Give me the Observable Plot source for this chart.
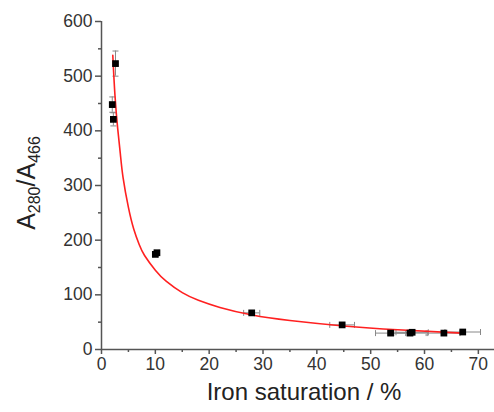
<!DOCTYPE html>
<html>
<head>
<meta charset="utf-8">
<script src="https://cdn.jsdelivr.net/npm/d3@7"></script>
<script src="https://cdn.jsdelivr.net/npm/@observablehq/plot@0.6"></script>
<style>
  html, body { margin: 0; padding: 0; background: #fff; }
  #chart svg { display: block; }
</style>
</head>
<body>
<div id="chart"></div>
<script>
// Measured points
const saturation = [2.0, 2.2, 2.6, 10.0, 10.3, 27.9, 44.7, 53.7, 57.3, 57.7, 63.6, 67.1];
const ratio      = [448, 421, 523, 174, 177, 67, 45, 30, 30, 31.5, 30, 32];
const ratioErr   = [14, 12, 23, 3, 3, 3, 3, 2, 2, 2, 2, 2];
const satErr     = [0.4, 0.4, 0.4, 0.4, 0.4, 1.5, 2.3, 2.8, 3.0, 3.0, 3.0, 3.3];

// Fitted curve
const fitX = [2.1, 2.5, 3, 3.5, 4, 5, 6, 7, 8, 10, 12, 15, 18, 22, 28, 35, 45, 55, 67];
const fitY = [538, 465, 405, 358, 315, 260, 220, 192, 172, 145, 125, 104, 90, 77, 63, 53, 43, 36, 30];

const xTicks = [0, 10, 20, 30, 40, 50, 60, 70];
const xMinor = [5, 15, 25, 35, 45, 55, 65];
const yTicks = [0, 100, 200, 300, 400, 500, 600];
const yMinor = [50, 150, 250, 350, 450, 550];

const pts = saturation.map((s, i) => ({s, r: ratio[i], re: ratioErr[i], se: satErr[i]}));
const fit = fitX.map((x, i) => ({x, y: fitY[i]}));

const hCap = {draw(ctx, size) { ctx.moveTo(-3, 0); ctx.lineTo(3, 0); }};
const vCap = {draw(ctx, size) { ctx.moveTo(0, -3); ctx.lineTo(0, 3); }};

const axisColor = "#555";
const errColor = "#888";
const font = "'Liberation Sans', Arial, sans-serif";

const plot = Plot.plot({
  width: 494,
  height: 412,
  marginLeft: 101,
  marginRight: 0,
  marginTop: 21,
  marginBottom: 63,
  style: {fontFamily: font, fontSize: "17.5px", color: "#333", background: "#fff"},
  x: {domain: [0, 73]},
  y: {domain: [0, 600]},
  marks: [
    // horizontal error bars
    Plot.ruleY(pts, {y: "r", x1: d => d.s - d.se, x2: d => d.s + d.se, stroke: errColor, strokeWidth: 1}),
    Plot.dot(pts, {x: d => d.s - d.se, y: "r", symbol: vCap, stroke: errColor, strokeWidth: 1, fill: "none"}),
    Plot.dot(pts, {x: d => d.s + d.se, y: "r", symbol: vCap, stroke: errColor, strokeWidth: 1, fill: "none"}),
    // vertical error bars
    Plot.ruleX(pts, {x: "s", y1: d => d.r - d.re, y2: d => d.r + d.re, stroke: errColor, strokeWidth: 1}),
    Plot.dot(pts, {x: "s", y: d => d.r - d.re, symbol: hCap, stroke: errColor, strokeWidth: 1, fill: "none"}),
    Plot.dot(pts, {x: "s", y: d => d.r + d.re, symbol: hCap, stroke: errColor, strokeWidth: 1, fill: "none"}),
    // fit
    Plot.line(fit, {x: "x", y: "y", stroke: "#ff2020", strokeWidth: 1.6, curve: "natural"}),
    // points
    Plot.dot(pts, {x: "s", y: "r", symbol: "square", fill: "#000", r: 3.8}),
    // axes
    Plot.axisX({ticks: xTicks, tickSize: 5, tickPadding: 3, stroke: axisColor, strokeWidth: 1.5, fontSize: 17.5, label: null}),
    Plot.axisX({ticks: xMinor, tickSize: 3, text: null, stroke: axisColor, strokeWidth: 1.5, label: null}),
    Plot.axisY({ticks: yTicks, tickSize: 6, tickPadding: 3, stroke: axisColor, strokeWidth: 1.5, fontSize: 17.5, label: null}),
    Plot.axisY({ticks: yMinor, tickSize: 3, text: null, stroke: axisColor, strokeWidth: 1.5, label: null}),
    Plot.ruleY([0], {stroke: axisColor, strokeWidth: 1.5}),
    Plot.ruleX([0], {stroke: axisColor, strokeWidth: 1.5}),
    Plot.text(["Iron saturation / %"], {frameAnchor: "bottom", dy: 50, dx: 6, fontSize: 24, fill: "#222"})
  ]
});

// Y-axis title with subscripts
const svg = d3.select(plot);
const t = svg.append("text")
  .attr("transform", "translate(35,183) rotate(-90)")
  .attr("text-anchor", "middle")
  .attr("font-family", font)
  .attr("font-size", 25)
  .attr("fill", "#222");
t.append("tspan").text("A");
t.append("tspan").attr("font-size", 16).attr("dy", 5).text("280");
t.append("tspan").attr("dy", -5).text("/A");
t.append("tspan").attr("font-size", 16).attr("dy", 5).text("466");

document.getElementById("chart").appendChild(plot);
</script>
</body>
</html>
